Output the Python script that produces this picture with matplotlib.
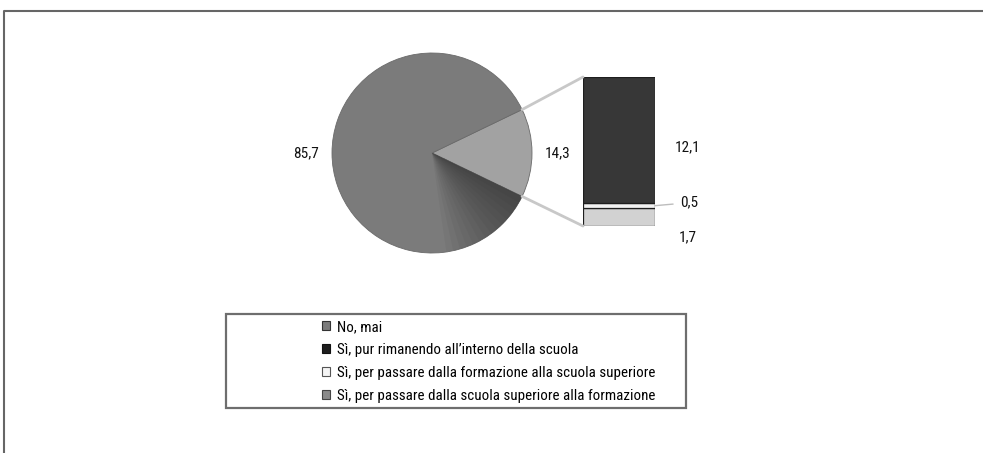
import matplotlib
matplotlib.use("Agg")
import matplotlib.pyplot as plt
from matplotlib.patches import Patch, Rectangle, Wedge, ConnectionPatch
from matplotlib.lines import Line2D
import numpy as np

plt.rcParams['font.family'] = ['Roboto Condensed', 'DejaVu Sans']

# Pie: "No, mai" vs all "Sì" answers combined
pie_labels = ["Sì (totale)", "No, mai"]
pie_values = [14.3, 85.7]

# Breakdown of the "Sì" share, stacked bottom to top
bar_categories = [
    "Sì, per passare dalla scuola superiore alla formazione",
    "Sì, per passare dalla formazione alla scuola superiore",
    "Sì, pur rimanendo all'interno della scuola",
]
bar_values = [1.7, 0.5, 12.1]

legend_labels = [
    "No, mai",
    "Sì, pur rimanendo all\u2019interno della scuola",
    "Sì, per passare dalla formazione alla scuola superiore",
    "Sì, per passare dalla scuola superiore alla formazione",
]

def fmt(v):
    return f"{v:.1f}".replace(".", ",")

W, H = 983, 453
fig = plt.figure(figsize=(W / 100, H / 100), dpi=100)

def px_rect(x0, y0, x1, y1):
    return [x0 / W, 1 - y1 / H, (x1 - x0) / W, (y1 - y0) / H]

# outer frame (top and left edges)
fig.add_artist(Line2D([4 / W, 4 / W, 1.0], [0.0, 1 - 11 / H, 1 - 11 / H],
                      transform=fig.transFigure, color="#666666", lw=1.5))

# ---- pie ----
ax_pie = fig.add_axes(px_rect(332, 53, 532, 253))
ax_pie.set_aspect("equal")
start = -pie_values[0] / 100 * 360 / 2
wedges, texts = ax_pie.pie(
    pie_values, labels=[fmt(v) for v in pie_values], startangle=start,
    colors=["#a2a2a2", "#7b7b7b"], labeldistance=1.13,
    wedgeprops=dict(edgecolor="#6a6a6a", linewidth=0.6),
    textprops=dict(fontsize=11, color="#111111"),
)
# shading on the lower-right part of the large slice
for k in range(14):
    ax_pie.add_patch(Wedge((0, 0), 1.0, start - 4.0 * (k + 1), start,
                           facecolor="#202020", alpha=0.05, lw=0))
ax_pie.set_xlim(-1, 1)
ax_pie.set_ylim(-1, 1)
ax_pie.axis("off")

# ---- stacked bar ----
ax_bar = fig.add_axes(px_rect(583, 77, 655, 226))
bar_colors = ["#d2d2d2", "#f2f2f2", "#373737"]
bottom = 0.0
centers = []
for v, c in zip(bar_values, bar_colors):
    ax_bar.bar(0, v, width=1.0, bottom=bottom, color=c,
               edgecolor="#1e1e1e", linewidth=0.9)
    centers.append(bottom + v / 2)
    bottom += v
ax_bar.set_xlim(-0.5, 0.5)
ax_bar.set_ylim(0, sum(bar_values))
ax_bar.axis("off")

# value labels next to the bar
ax_bar.annotate(fmt(bar_values[2]), xy=(0.5, centers[2]), xytext=(20, -7),
                textcoords="offset pixels", ha="left", va="center",
                fontsize=11, color="#111111", annotation_clip=False)
ax_bar.annotate(fmt(bar_values[1]), xy=(0.5, centers[1]), xytext=(25, 3),
                textcoords="offset pixels", ha="left", va="center",
                fontsize=11, color="#111111", annotation_clip=False,
                arrowprops=dict(arrowstyle="-", color="#bdbdbd", lw=1.0,
                                shrinkA=3, shrinkB=14))
ax_bar.annotate(fmt(bar_values[0]), xy=(0.5, 0), xytext=(33, -11),
                textcoords="offset pixels", ha="center", va="center",
                fontsize=11, color="#111111", annotation_clip=False)

# connectors from the "Sì" slice to the bar
w = wedges[0]
for ang, yb in ((w.theta2, sum(bar_values)), (w.theta1, 0)):
    p = (np.cos(np.radians(ang)), np.sin(np.radians(ang)))
    con = ConnectionPatch(xyA=p, coordsA=ax_pie.transData,
                          xyB=(-0.5, yb), coordsB=ax_bar.transData,
                          color="#c8c8c8", lw=2.0)
    fig.add_artist(con)

# ---- legend ----
fig.add_artist(Rectangle((226 / W, 1 - 408 / H), (686 - 226) / W, (408 - 314) / H,
                         transform=fig.transFigure, fill=False,
                         edgecolor="#6e6e6e", lw=1.6))
handles = [
    Patch(facecolor="#7b7b7b", edgecolor="#333333", lw=0.8),
    Patch(facecolor="#1e1e1e", edgecolor="#111111", lw=0.8),
    Patch(facecolor="#f4f4f4", edgecolor="#555555", lw=0.8),
    Patch(facecolor="#8a8a8a", edgecolor="#444444", lw=0.8),
]
fig.legend(handles, legend_labels, loc="upper left",
           bbox_to_anchor=(322 / W, 1 - 320 / H), frameon=False,
           fontsize=10.8, handlelength=0.55, handleheight=0.55,
           handletextpad=0.45, labelspacing=0.6, borderpad=0,
           borderaxespad=0)

fig.savefig("out.png", dpi=100)
